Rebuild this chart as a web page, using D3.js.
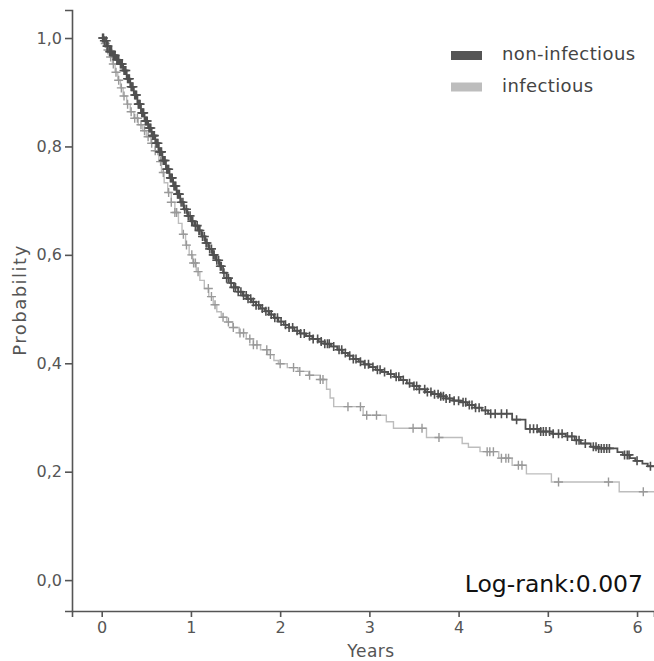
<!DOCTYPE html>
<html><head><meta charset="utf-8">
<script src="https://cdn.jsdelivr.net/npm/d3@7"></script>
<style>body{margin:0;background:#fff}svg{display:block}</style>
</head><body>
<script>
const seriesNames = ["non-infectious", "infectious"];
const xTicks = [0,1,2,3,4,5,6];
const yTicks = [0,0.2,0.4,0.6,0.8,1.0];
const yTickLabels = ["0,0","0,2","0,4","0,6","0,8","1,0"];
const logRankText = "Log-rank:0.007";

// step points [time (years), survival after step]
const nonInfSteps = [[0,1],[0.03,0.995],[0.06,0.985],[0.09,0.975],[0.12,0.968],[0.16,0.96],[0.2,0.952],[0.24,0.94],[0.28,0.925],[0.32,0.91],[0.36,0.895],[0.4,0.878],[0.44,0.862],[0.48,0.847],[0.52,0.834],[0.56,0.82],[0.6,0.806],[0.64,0.79],[0.68,0.774],[0.72,0.758],[0.76,0.742],[0.8,0.727],[0.84,0.712],[0.88,0.697],[0.92,0.684],[0.96,0.672],[1.0,0.662],[1.04,0.654],[1.08,0.645],[1.12,0.634],[1.16,0.622],[1.2,0.611],[1.24,0.6],[1.28,0.59],[1.32,0.579],[1.36,0.567],[1.4,0.557],[1.44,0.548],[1.48,0.54],[1.53,0.532],[1.58,0.525],[1.63,0.519],[1.68,0.513],[1.73,0.507],[1.78,0.501],[1.83,0.496],[1.88,0.49],[1.93,0.484],[1.98,0.477],[2.04,0.471],[2.1,0.466],[2.16,0.46],[2.22,0.455],[2.29,0.45],[2.36,0.445],[2.43,0.44],[2.5,0.436],[2.57,0.431],[2.64,0.425],[2.7,0.419],[2.76,0.414],[2.82,0.408],[2.88,0.403],[2.94,0.398],[3.0,0.393],[3.07,0.388],[3.14,0.384],[3.21,0.38],[3.28,0.375],[3.35,0.369],[3.42,0.363],[3.49,0.358],[3.56,0.352],[3.63,0.347],[3.7,0.343],[3.78,0.339],[3.86,0.335],[3.94,0.331],[4.02,0.328],[4.1,0.323],[4.18,0.318],[4.26,0.313],[4.33,0.307],[4.6,0.296],[4.75,0.279],[4.9,0.274],[5.05,0.27],[5.2,0.265],[5.3,0.258],[5.37,0.252],[5.48,0.246],[5.56,0.243],[5.78,0.236],[5.84,0.231],[5.92,0.225],[5.98,0.22],[6.06,0.215],[6.12,0.21]];
const infSteps = [[0,1],[0.03,0.99],[0.06,0.978],[0.09,0.965],[0.12,0.952],[0.15,0.937],[0.18,0.922],[0.21,0.908],[0.24,0.893],[0.28,0.878],[0.32,0.864],[0.36,0.852],[0.41,0.84],[0.46,0.829],[0.5,0.818],[0.55,0.806],[0.6,0.792],[0.64,0.772],[0.67,0.752],[0.7,0.733],[0.74,0.715],[0.78,0.697],[0.82,0.678],[0.86,0.658],[0.9,0.638],[0.94,0.618],[0.98,0.6],[1.02,0.585],[1.06,0.569],[1.1,0.553],[1.15,0.538],[1.2,0.523],[1.25,0.508],[1.29,0.495],[1.34,0.485],[1.4,0.476],[1.47,0.466],[1.54,0.456],[1.62,0.445],[1.7,0.434],[1.78,0.425],[1.86,0.416],[1.93,0.405],[1.98,0.399],[2.08,0.392],[2.2,0.385],[2.32,0.378],[2.45,0.37],[2.52,0.352],[2.56,0.336],[2.6,0.32],[2.93,0.304],[3.19,0.292],[3.27,0.28],[3.64,0.263],[4.04,0.252],[4.11,0.245],[4.24,0.237],[4.45,0.225],[4.6,0.212],[4.76,0.196],[5.04,0.181],[5.8,0.163]];

// censoring times (years)
const nonInfCensor = [0.01,0.02,0.03,0.05,0.06,0.07,0.09,0.1,0.11,0.13,0.14,0.15,0.17,0.18,0.19,0.21,0.22,0.23,0.25,0.26,0.27,0.29,0.3,0.31,0.33,0.34,0.35,0.37,0.38,0.39,0.41,0.42,0.43,0.45,0.46,0.47,0.49,0.5,0.51,0.53,0.54,0.55,0.57,0.58,0.59,0.61,0.62,0.63,0.65,0.66,0.67,0.69,0.7,0.71,0.73,0.74,0.75,0.77,0.78,0.79,0.81,0.82,0.83,0.85,0.86,0.87,0.89,0.91,0.93,0.95,0.97,0.99,1.01,1.02,1.05,1.07,1.09,1.1,1.13,1.15,1.17,1.18,1.21,1.23,1.25,1.26,1.29,1.31,1.33,1.34,1.37,1.4,1.42,1.45,1.48,1.5,1.53,1.56,1.59,1.62,1.64,1.67,1.7,1.73,1.76,1.8,1.84,1.87,1.9,1.94,1.97,2.01,2.06,2.1,2.14,2.19,2.23,2.27,2.33,2.37,2.42,2.46,2.5,2.53,2.55,2.6,2.66,2.69,2.73,2.78,2.82,2.85,2.9,2.95,2.99,3.04,3.09,3.12,3.17,3.24,3.3,3.33,3.38,3.45,3.5,3.53,3.56,3.62,3.65,3.69,3.73,3.77,3.8,3.83,3.86,3.9,3.95,4.0,4.05,4.08,4.12,4.15,4.19,4.23,4.3,4.36,4.41,4.48,4.54,4.65,4.8,4.84,4.88,4.92,4.95,4.98,5.02,5.06,5.12,5.16,5.22,5.27,5.32,5.35,5.42,5.51,5.54,5.57,5.6,5.63,5.66,5.69,5.86,5.89,5.91,6.0,6.15];
const infCensor = [0.04,0.07,0.1,0.13,0.16,0.19,0.22,0.25,0.29,0.33,0.37,0.4,0.44,0.48,0.52,0.56,0.6,0.63,0.66,0.69,0.75,0.78,0.82,0.84,0.915,0.95,1.01,1.03,1.05,1.08,1.195,1.23,1.27,1.36,1.42,1.475,1.55,1.59,1.66,1.7,1.74,1.85,1.89,2.0,2.15,2.22,2.33,2.45,2.48,2.76,2.9,2.97,3.08,3.49,3.59,3.78,4.32,4.35,4.39,4.48,4.53,4.56,4.67,4.71,5.12,5.68,6.07];

const W = 654, H = 661;
const svg = d3.select("body").append("svg").attr("width", W).attr("height", H);
const x = d3.scaleLinear().domain([-0.333, 6.19]).range([72, 654]);
const y = d3.scaleLinear().domain([-0.057, 1.0517]).range([611, 10]);
const axisColor = "#555";
const font = "DejaVu Sans, sans-serif";

svg.append("defs").append("clipPath").attr("id","clip")
  .append("rect").attr("x",72).attr("y",0).attr("width",582).attr("height",611);

const xAxis = svg.append("g").attr("transform","translate(0,611)")
  .call(d3.axisBottom(x).tickValues(xTicks).tickSizeOuter(0).tickSize(6).tickPadding(5).tickFormat(d3.format("d")));
const yAxis = svg.append("g").attr("transform","translate(72,0)")
  .call(d3.axisLeft(y).tickValues(yTicks).tickSizeOuter(0).tickSize(7).tickPadding(3).tickFormat((d,i)=>yTickLabels[i]));
[xAxis, yAxis].forEach(g=>{
  g.select(".domain").attr("stroke",axisColor).attr("stroke-width",1.6);
  g.selectAll(".tick line").attr("stroke",axisColor).attr("stroke-width",1.6);
  g.selectAll(".tick text").attr("fill","#555").style("font-family",font).style("font-size","16px");
});

svg.append("text").attr("x", 371).attr("y", 657).attr("text-anchor","middle")
  .style("font-family",font).style("font-size","17px").style("letter-spacing","0.5px").attr("fill","#555").text("Years");
svg.append("text").attr("transform","translate(26,300) rotate(-90)").attr("text-anchor","middle")
  .style("font-family",font).style("font-size","18px").style("letter-spacing","1.5px").attr("fill","#555").text("Probability");

function survAt(steps, t){ let s = 1; for (const p of steps){ if (p[0] <= t) s = p[1]; else break; } return s; }

const plot = svg.append("g").attr("clip-path","url(#clip)");
const line = d3.line().x(d=>x(d[0])).y(d=>y(d[1])).curve(d3.curveStepAfter);
const series = [
  {steps: infSteps, censor: infCensor, line: "#bdbdbd", mark: "#999", lw: 1.4, mw: 1.4},
  {steps: nonInfSteps, censor: nonInfCensor, line: "#505050", mark: "#505050", lw: 1.8, mw: 1.6}
];
series.forEach(s=>{
  const pts = s.steps.concat([[6.3, s.steps[s.steps.length-1][1]]]);
  plot.append("path").datum(pts).attr("d", line).attr("fill","none")
    .attr("stroke", s.line).attr("stroke-width", s.lw);
  plot.append("g").selectAll("path").data(s.censor).join("path")
    .attr("d", t=>{ const cx = x(t), cy = y(survAt(s.steps,t)); return `M${cx-4.5},${cy}H${cx+4.5}M${cx},${cy-4.5}V${cy+4.5}`; })
    .attr("stroke", s.mark).attr("stroke-width", s.mw).attr("fill","none");
});

// legend
const legColors = ["#555", "#bdbdbd"];
const leg = svg.append("g");
seriesNames.forEach((n,i)=>{
  const yy = 51 + i*31.5;
  leg.append("rect").attr("x",451).attr("y",yy).attr("width",31).attr("height",9).attr("fill",legColors[i]);
  leg.append("text").attr("x",502).attr("y",yy+9).style("font-family",font).style("font-size","18px")
    .style("letter-spacing","0.4px").attr("fill","#444").text(n);
});

svg.append("text").attr("x", 643).attr("y", 592).attr("text-anchor","end")
  .style("font-family",font).style("font-size","23.5px").attr("fill","#111").text(logRankText);
</script>
</body></html>
